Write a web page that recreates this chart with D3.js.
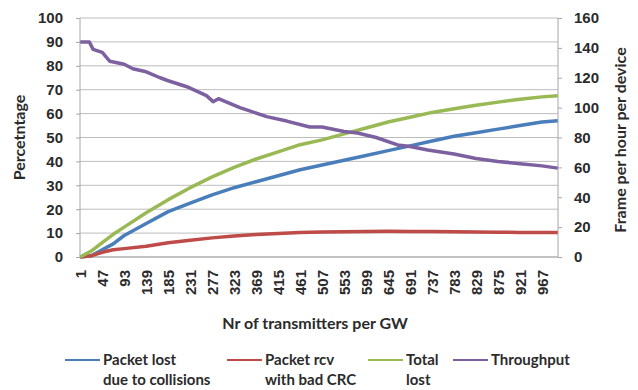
<!DOCTYPE html>
<html>
<head>
<meta charset="utf-8">
<script src="https://d3js.org/d3.v7.min.js"></script>
<style>
    body { margin: 0; background: #fff; }
    svg { font-family: Lato, "Open Sans", sans-serif; }
    .tick text { fill: #2b2b2b; font-weight: bold; font-size: 15px; }
</style>
</head>
<body>
<svg width=638 height=390></svg>

<script>

    // x categories read at these points (1..1000)
    const xTicks = d3.range(1, 1000, 46);   // 1, 47, ... 967

    const lostCollisions = [[1,0],[24,0.5],[47,3],[70,5.5],[93,9],[139,14],[185,19],[231,22.5],[277,26],[323,29],[369,31.5],[415,34],[461,36.5],[507,38.5],[553,40.5],[599,42.5],[645,44.5],[691,46.5],[737,48.5],[783,50.5],[829,52],[875,53.5],[921,55],[967,56.5],[1000,57]];
    const badCrc = [[1,0],[24,0.5],[47,2],[70,3],[93,3.5],[139,4.5],[185,6],[231,7],[277,8],[323,8.8],[369,9.4],[415,9.8],[461,10.2],[507,10.5],[553,10.6],[599,10.7],[645,10.8],[691,10.7],[737,10.7],[783,10.6],[829,10.5],[875,10.4],[921,10.3],[967,10.2],[1000,10.2]];
    const totalLost = [[1,0],[24,2.5],[47,6],[70,9.5],[93,12.5],[139,18.5],[185,24],[231,29],[277,33.5],[323,37.5],[369,41],[415,44],[461,47],[507,49],[553,51.5],[599,54],[645,56.5],[691,58.5],[737,60.5],[783,62],[829,63.5],[875,64.8],[921,66],[967,67],[1000,67.5]];
    // throughput on the right axis (frames per hour per device)
    const throughput = [[1,144],[20,144],[28,139],[47,137],[63,131],[93,129],[111,126],[139,124],[168,120],[185,118],[224,114],[265,108],[279,104],[290,106],[335,100],[391,94],[433,91],[481,87],[507,87],[553,84],[581,83],[620,80],[665,75],[691,74],[728,71.6],[783,69],[829,66],[875,64],[921,62.5],[967,61],[1000,59.5]];

    const leftTicks = d3.range(0, 101, 10);
    const rightTicks = d3.range(0, 161, 20);

    const series = [
        { name: ['Packet lost', 'due to collisions'], data: lostCollisions, color: '#4a7ebb', axis: 'left' },
        { name: ['Packet rcv', 'with bad CRC'], data: badCrc, color: '#be4b48', axis: 'left' },
        { name: ['Total', 'lost'], data: totalLost, color: '#98b954', axis: 'left' },
        { name: ['Throughput'], data: throughput, color: '#7d60a0', axis: 'right' }
    ];

    let svg = d3.select('svg'),
        margin = { top: 18, right: 80, bottom: 133, left: 80 },
        width = +svg.attr('width') - margin.left - margin.right,
        height = +svg.attr('height') - margin.top - margin.bottom,
        g = svg.append('g')
            .attr('transform', 'translate(' + margin.left + ',' + margin.top + ')');

    let x = d3.scaleLinear().domain([0.5, 1000.5]).range([0, width]);
    let yL = d3.scaleLinear().domain([0, 100]).range([height, 0]);
    let yR = d3.scaleLinear().domain([0, 160]).range([height, 0]);

    // gridlines
    g.selectAll('.grid')
        .data(leftTicks)
      .enter().append('line')
        .attr('x1', 0).attr('x2', width)
        .attr('y1', d => yL(d)).attr('y2', d => yL(d))
        .attr('stroke', '#bdbdbd').attr('stroke-width', 1);

    let leftAxis = g.append('g').call(d3.axisLeft(yL).tickValues(leftTicks).tickSize(4).tickPadding(13));
    let rightAxis = g.append('g').attr('transform', 'translate(' + width + ',0)')
        .call(d3.axisRight(yR).tickValues(rightTicks).tickSize(4).tickPadding(12));
    let bottomAxis = g.append('g').attr('transform', 'translate(0,' + height + ')')
        .call(d3.axisBottom(x).tickValues(xTicks).tickSize(0));

    [leftAxis, rightAxis, bottomAxis].forEach(a => {
        a.select('.domain').attr('stroke', '#a6a6a6');
        a.selectAll('.tick line').attr('stroke', '#a6a6a6');
    });
    bottomAxis.select('.domain').attr('d', 'M0,0H' + width);
    leftAxis.select('.domain').attr('d', 'M0,0V' + height);
    rightAxis.select('.domain').attr('d', 'M0,0V' + height);

    bottomAxis.selectAll('.tick text')
        .attr('transform', 'rotate(-90)')
        .attr('text-anchor', 'end')
        .attr('dy', '0.35em')
        .attr('x', -13).attr('y', 0);

    // lines
    series.forEach(s => {
        let y = s.axis === 'left' ? yL : yR;
        let line = d3.line().x(d => x(d[0])).y(d => y(d[1]));
        g.append('path')
            .datum(s.data)
            .attr('fill', 'none')
            .attr('stroke', s.color)
            .attr('stroke-width', 3.5)
            .attr('stroke-linejoin', 'round')
            .attr('d', line);
    });

    // axis titles
    svg.append('text')
        .attr('transform', 'translate(25,' + (margin.top + height / 2) + ') rotate(-90)')
        .attr('text-anchor', 'middle')
        .attr('font-weight', 'bold').attr('font-size', 16).attr('fill', '#2b2b2b')
        .text('Percetntage');

    svg.append('text')
        .attr('transform', 'translate(626,140) rotate(-90)')
        .attr('text-anchor', 'middle')
        .attr('font-weight', 'bold').attr('font-size', 16).attr('fill', '#2b2b2b')
        .text('Frame per hour per device');

    svg.append('text')
        .attr('x', 315).attr('y', 329)
        .attr('text-anchor', 'middle')
        .attr('font-weight', 'bold').attr('font-size', 16).attr('fill', '#2b2b2b')
        .text('Nr of transmitters per GW');

    // legend
    const legendX = [65, 227, 368, 453];
    let legend = svg.selectAll('.legend')
        .data(series)
      .enter().append('g')
        .attr('transform', (d, i) => 'translate(' + legendX[i] + ',365)');
    legend.append('line')
        .attr('x1', 0).attr('x2', 35).attr('y1', -5).attr('y2', -5)
        .attr('stroke', d => d.color).attr('stroke-width', 2);
    legend.append('text')
        .attr('font-weight', 'bold').attr('font-size', 15).attr('fill', '#2b2b2b')
        .selectAll('tspan')
        .data(d => d.name)
      .enter().append('tspan')
        .attr('x', 38)
        .attr('dy', (d, i) => i === 0 ? 0 : 20)
        .text(d => d);

</script>
</body>
</html>
